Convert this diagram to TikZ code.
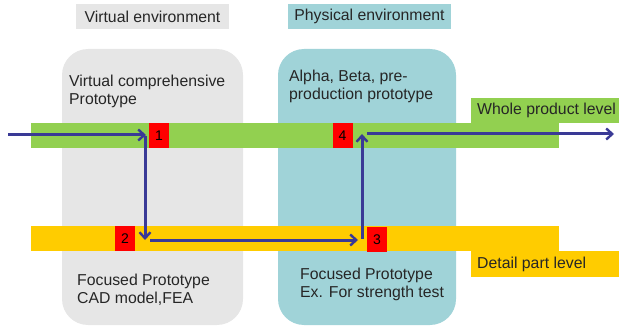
\documentclass[tikz,border=0pt]{standalone}
\usepackage{fontspec}
\setmainfont{Liberation Sans}
\usetikzlibrary{arrows.meta}
\definecolor{envgray}{RGB}{230,230,230}
\definecolor{envteal}{RGB}{160,211,216}
\definecolor{barGreen}{RGB}{146,208,80}
\definecolor{barOrange}{RGB}{255,204,0}
\definecolor{flowBlue}{RGB}{58,58,150}
\definecolor{txt}{RGB}{38,38,38}
\tikzset{
  txtnode/.style={inner sep=0pt, text=txt, font=\fontsize{15.8}{18}\selectfont, align=left, anchor=west},
  hdr/.style={minimum height=25pt, inner sep=0pt, text=txt, font=\fontsize{15.8}{18}\selectfont},
  numbox/.style={fill=red, minimum width=20pt, minimum height=25pt, inner sep=0pt, font=\fontsize{14}{16}\selectfont, text=black},
  flow/.style={draw=flowBlue, line width=3pt, -{Straight Barb[length=6pt,width=11pt,line width=2.4pt]}},
}
\begin{document}
\begin{tikzpicture}[x=1pt,y=-1pt]
\useasboundingbox (0,0) rectangle (619,326);
% environment boxes
\fill[envgray, rounded corners=26pt] (62,49) rectangle (243,325);
\fill[envteal, rounded corners=26pt] (278,49) rectangle (456,325);
% header labels
\node[hdr, fill=envgray, minimum width=153pt] (venv) at (152.5,16.5) {Virtual environment};
\node[hdr, fill=envteal, minimum width=163pt] (penv) at (369.5,16.5) {Physical environment};
% bars
\fill[barGreen] (31,123) rectangle (559,148);
\fill[barGreen] (471,98) rectangle (619,123);
\fill[barOrange] (31,226) rectangle (559,251);
\fill[barOrange] (471,251) rectangle (619,277);
% level labels
\node[txtnode] (whole) at (477,110) {Whole product level};
\node[txtnode] (detail) at (477,264) {Detail part level};
% box texts
\node[txtnode] (vcp) at (69,91) {Virtual comprehensive\\Prototype};
\node[txtnode] (abp) at (289,86.5) {Alpha, Beta, pre-\\production prototype};
\node[txtnode] (fp1) at (77,290) {Focused Prototype\\CAD model,FEA};
\node[txtnode] (fp2) at (300,284) {Focused Prototype\\Ex. For strength test};
% numbered squares
\node[numbox] (n1) at (159,135.5) {1};
\node[numbox] (n2) at (125,238.5) {2};
\node[numbox] (n3) at (377,239.5) {3};
\node[numbox] (n4) at (342.5,135.5) {4};
% flow coordinates
\coordinate (start) at (8,135);
\coordinate (c1) at (146,135);
\coordinate (c2) at (145,240);
\coordinate (c3) at (362,240);
\coordinate (c4) at (362,134);
\coordinate (finish) at (614,134);
% arrows
\draw[flow] (start) -- (c1);
\draw[flow] ([yshift=-1.5pt]c1 -| c2) -- (c2);
\draw[flow] ([xshift=5pt]c2) -- ([xshift=-4pt]c3);
\draw[flow] ([yshift=1.5pt]c3) -- (c4);
\draw[flow] ([xshift=5pt]c4) -- (finish);
\end{tikzpicture}
\end{document}
